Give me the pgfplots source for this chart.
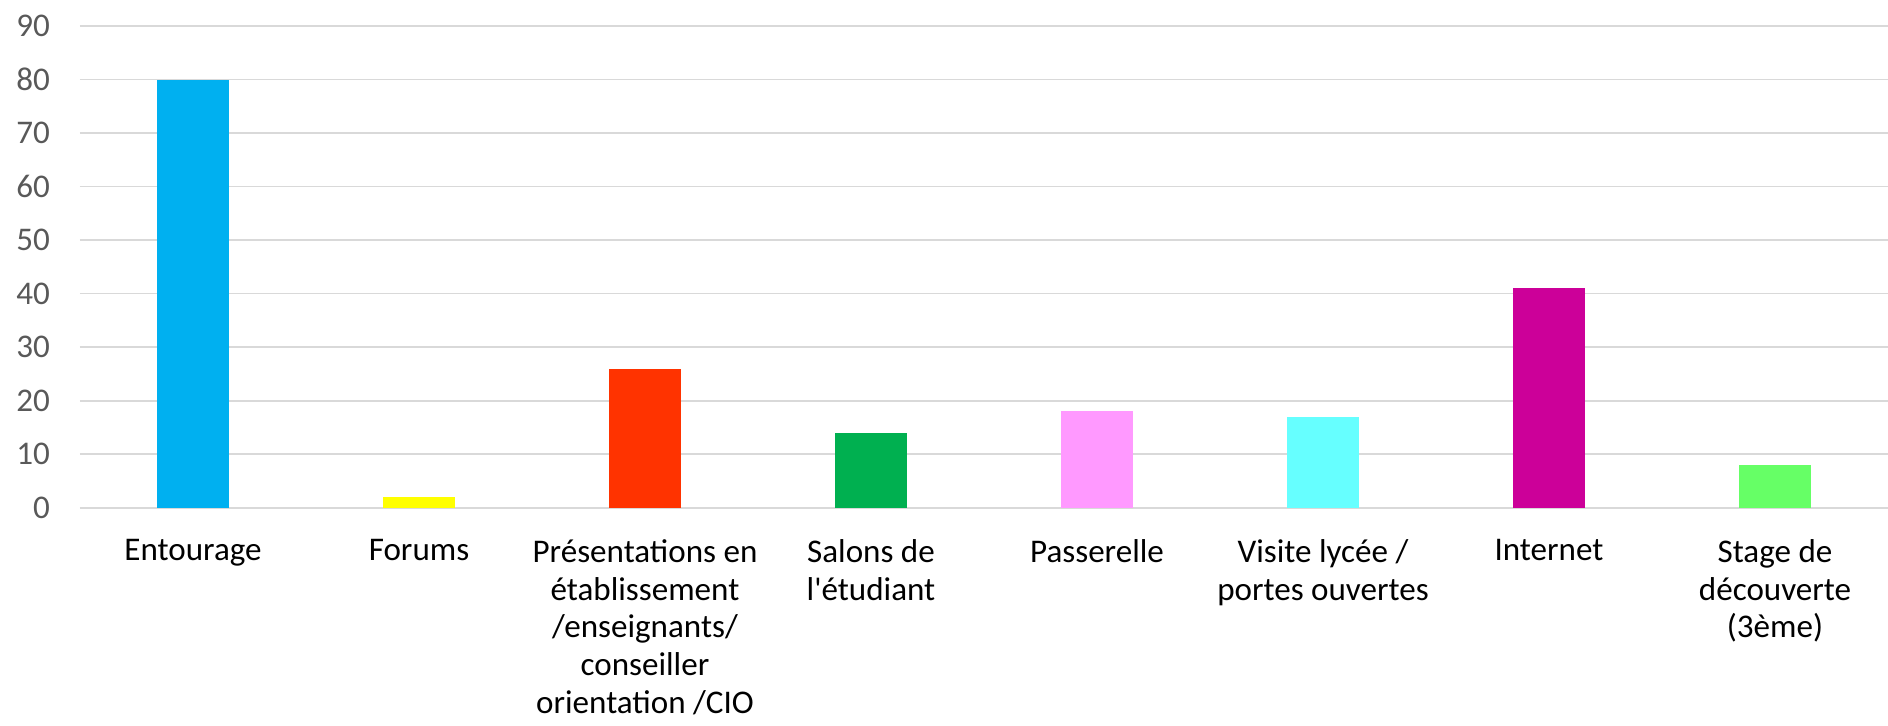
\documentclass[border=0pt]{standalone}
\usepackage{fontspec}
\setmainfont{Carlito}
\usepackage{pgfplots}
\pgfplotsset{compat=1.18}
\definecolor{gridgrey}{HTML}{D9D9D9}
\definecolor{ticktext}{HTML}{595959}
\definecolor{cEnt}{HTML}{00B0F0}
\definecolor{cFor}{HTML}{FFFF00}
\definecolor{cPre}{HTML}{FF3300}
\definecolor{cSal}{HTML}{00B050}
\definecolor{cPas}{HTML}{FF99FF}
\definecolor{cVis}{HTML}{66FFFF}
\definecolor{cInt}{HTML}{CC0099}
\definecolor{cSta}{HTML}{66FF66}
\begin{document}
\fontsize{12.4}{14.2}\selectfont
\begin{tikzpicture}
\begin{axis}[
    at={(0,0)}, anchor=south west,
    scale only axis,
    width=678pt, height=180.6pt,
    xmin=-0.5, xmax=7.5,
    ymin=0, ymax=90,
    ytick={0,10,...,90},
    xtick={0,...,7},
    xticklabels={Entourage, Forums,
        {Présentations en\\établissement\\/enseignants/\\conseiller\\orientation /CIO},
        {Salons de\\l\textquotesingle étudiant}, Passerelle,
        {Visite lycée /\\portes ouvertes}, Internet,
        {Stage de\\découverte\\(3ème)}},
    xticklabel style={align=center, text=black, yshift=-7.5pt},
    yticklabel style={text=ticktext, xshift=-7pt},
    /pgf/number format/assume math mode=true,
    major tick length=0pt,
    axis line style={draw=none},
    ymajorgrids,
    grid style={gridgrey, line width=0.6pt},
    ybar, bar width=27pt,
    bar shift=0pt,
]
\addplot[fill=cEnt, draw=none] coordinates {(0,80)};
\addplot[fill=cFor, draw=none] coordinates {(1,2)};
\addplot[fill=cPre, draw=none] coordinates {(2,26)};
\addplot[fill=cSal, draw=none] coordinates {(3,14)};
\addplot[fill=cPas, draw=none] coordinates {(4,18)};
\addplot[fill=cVis, draw=none] coordinates {(5,17)};
\addplot[fill=cInt, draw=none] coordinates {(6,41)};
\addplot[fill=cSta, draw=none] coordinates {(7,8)};
\end{axis}
\pgfresetboundingbox
\useasboundingbox (-30pt,-81.5pt) rectangle (678pt,190.4pt);
\end{tikzpicture}
\end{document}
